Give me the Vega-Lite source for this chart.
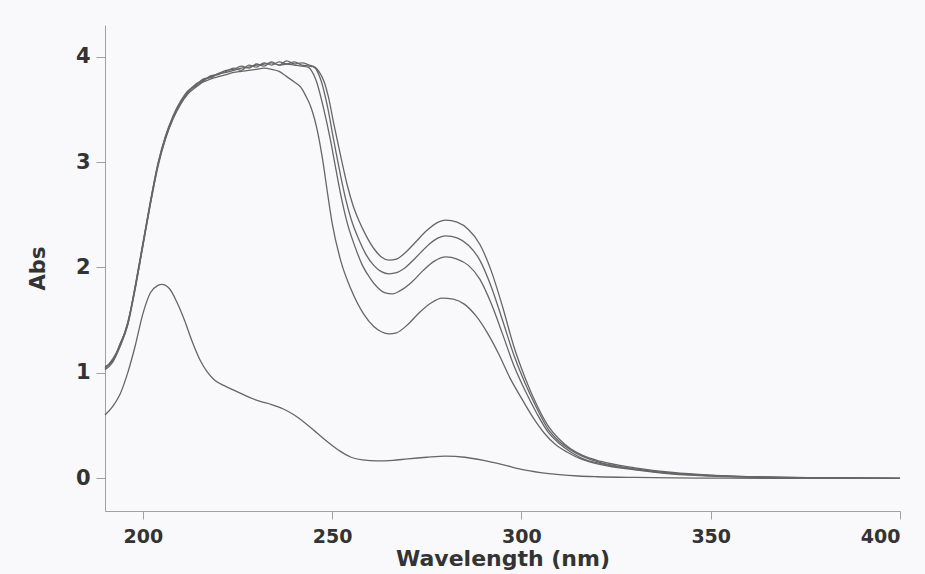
{
  "$schema": "https://vega.github.io/schema/vega-lite/v6.json",
  "width": 795,
  "height": 486,
  "autosize": {"type": "none"},
  "padding": {"left": 105, "top": 25, "right": 25, "bottom": 63},
  "background": "#f9f9fb",
  "config": {
    "view": {"stroke": null},
    "font": "DejaVu Sans"
  },
  "data": {
    "values": [
      {"s":"A","wl":190,"abs":1.05},{"s":"A","wl":192,"abs":1.12},{"s":"A","wl":194,"abs":1.27},{"s":"A","wl":196,"abs":1.47},{"s":"A","wl":198,"abs":1.82},{"s":"A","wl":200,"abs":2.22},{"s":"A","wl":202,"abs":2.62},{"s":"A","wl":204,"abs":2.98},{"s":"A","wl":206,"abs":3.24},{"s":"A","wl":208,"abs":3.43},{"s":"A","wl":210,"abs":3.57},{"s":"A","wl":212,"abs":3.67},{"s":"A","wl":214,"abs":3.74},{"s":"A","wl":216,"abs":3.78},{"s":"A","wl":218,"abs":3.81},{"s":"A","wl":220,"abs":3.84},{"s":"A","wl":222,"abs":3.87},{"s":"A","wl":224,"abs":3.88},{"s":"A","wl":226,"abs":3.91},{"s":"A","wl":228,"abs":3.89},{"s":"A","wl":230,"abs":3.93},{"s":"A","wl":232,"abs":3.91},{"s":"A","wl":234,"abs":3.95},{"s":"A","wl":236,"abs":3.92},{"s":"A","wl":238,"abs":3.96},{"s":"A","wl":240,"abs":3.93},{"s":"A","wl":242,"abs":3.94},{"s":"A","wl":244,"abs":3.92},{"s":"A","wl":245.5,"abs":3.9},{"s":"A","wl":246.5,"abs":3.86},{"s":"A","wl":248,"abs":3.75},{"s":"A","wl":249,"abs":3.62},{"s":"A","wl":250.4,"abs":3.37},{"s":"A","wl":252.3,"abs":3.05},{"s":"A","wl":254,"abs":2.78},{"s":"A","wl":255.5,"abs":2.59},{"s":"A","wl":257,"abs":2.45},{"s":"A","wl":259,"abs":2.3},{"s":"A","wl":261,"abs":2.18},{"s":"A","wl":263,"abs":2.1},{"s":"A","wl":265,"abs":2.07},{"s":"A","wl":267,"abs":2.08},{"s":"A","wl":269,"abs":2.13},{"s":"A","wl":272,"abs":2.24},{"s":"A","wl":275,"abs":2.35},{"s":"A","wl":278,"abs":2.43},{"s":"A","wl":280,"abs":2.45},{"s":"A","wl":283,"abs":2.43},{"s":"A","wl":286,"abs":2.36},{"s":"A","wl":289,"abs":2.22},{"s":"A","wl":292,"abs":1.97},{"s":"A","wl":295,"abs":1.63},{"s":"A","wl":298,"abs":1.25},{"s":"A","wl":301,"abs":0.95},{"s":"A","wl":304,"abs":0.7},{"s":"A","wl":307,"abs":0.5},{"s":"A","wl":310,"abs":0.37},{"s":"A","wl":313,"abs":0.28},{"s":"A","wl":316,"abs":0.22},{"s":"A","wl":321,"abs":0.16},{"s":"A","wl":330,"abs":0.1},{"s":"A","wl":340,"abs":0.055},{"s":"A","wl":350,"abs":0.03},{"s":"A","wl":365,"abs":0.012},{"s":"A","wl":380,"abs":0.005},{"s":"A","wl":400,"abs":0},

      {"s":"B","wl":190,"abs":1.04},{"s":"B","wl":192,"abs":1.13},{"s":"B","wl":194,"abs":1.26},{"s":"B","wl":196,"abs":1.48},{"s":"B","wl":198,"abs":1.81},{"s":"B","wl":200,"abs":2.21},{"s":"B","wl":202,"abs":2.61},{"s":"B","wl":204,"abs":2.97},{"s":"B","wl":206,"abs":3.23},{"s":"B","wl":208,"abs":3.42},{"s":"B","wl":210,"abs":3.56},{"s":"B","wl":212,"abs":3.66},{"s":"B","wl":214,"abs":3.73},{"s":"B","wl":216,"abs":3.77},{"s":"B","wl":218,"abs":3.82},{"s":"B","wl":220,"abs":3.83},{"s":"B","wl":222,"abs":3.86},{"s":"B","wl":224,"abs":3.89},{"s":"B","wl":226,"abs":3.87},{"s":"B","wl":228,"abs":3.92},{"s":"B","wl":230,"abs":3.9},{"s":"B","wl":232,"abs":3.94},{"s":"B","wl":234,"abs":3.92},{"s":"B","wl":236,"abs":3.95},{"s":"B","wl":238,"abs":3.93},{"s":"B","wl":240,"abs":3.95},{"s":"B","wl":242,"abs":3.92},{"s":"B","wl":244,"abs":3.91},{"s":"B","wl":245.2,"abs":3.9},{"s":"B","wl":247,"abs":3.78},{"s":"B","wl":248.8,"abs":3.52},{"s":"B","wl":250.4,"abs":3.21},{"s":"B","wl":252.3,"abs":2.86},{"s":"B","wl":253.5,"abs":2.66},{"s":"B","wl":255,"abs":2.46},{"s":"B","wl":257,"abs":2.27},{"s":"B","wl":259,"abs":2.12},{"s":"B","wl":261,"abs":2.02},{"s":"B","wl":263,"abs":1.96},{"s":"B","wl":265,"abs":1.94},{"s":"B","wl":267,"abs":1.95},{"s":"B","wl":269,"abs":1.99},{"s":"B","wl":272,"abs":2.09},{"s":"B","wl":275,"abs":2.2},{"s":"B","wl":278,"abs":2.28},{"s":"B","wl":280,"abs":2.3},{"s":"B","wl":283,"abs":2.28},{"s":"B","wl":286,"abs":2.21},{"s":"B","wl":289,"abs":2.07},{"s":"B","wl":292,"abs":1.82},{"s":"B","wl":295,"abs":1.5},{"s":"B","wl":298,"abs":1.17},{"s":"B","wl":301,"abs":0.9},{"s":"B","wl":304,"abs":0.67},{"s":"B","wl":307,"abs":0.47},{"s":"B","wl":310,"abs":0.35},{"s":"B","wl":313,"abs":0.27},{"s":"B","wl":316,"abs":0.21},{"s":"B","wl":321,"abs":0.15},{"s":"B","wl":330,"abs":0.09},{"s":"B","wl":340,"abs":0.05},{"s":"B","wl":350,"abs":0.028},{"s":"B","wl":365,"abs":0.011},{"s":"B","wl":380,"abs":0.004},{"s":"B","wl":400,"abs":0},

      {"s":"C","wl":190,"abs":1.06},{"s":"C","wl":192,"abs":1.11},{"s":"C","wl":194,"abs":1.28},{"s":"C","wl":196,"abs":1.46},{"s":"C","wl":198,"abs":1.83},{"s":"C","wl":200,"abs":2.23},{"s":"C","wl":202,"abs":2.63},{"s":"C","wl":204,"abs":2.99},{"s":"C","wl":206,"abs":3.25},{"s":"C","wl":208,"abs":3.44},{"s":"C","wl":210,"abs":3.58},{"s":"C","wl":212,"abs":3.68},{"s":"C","wl":214,"abs":3.72},{"s":"C","wl":216,"abs":3.79},{"s":"C","wl":218,"abs":3.8},{"s":"C","wl":220,"abs":3.84},{"s":"C","wl":222,"abs":3.85},{"s":"C","wl":224,"abs":3.87},{"s":"C","wl":226,"abs":3.89},{"s":"C","wl":228,"abs":3.9},{"s":"C","wl":230,"abs":3.92},{"s":"C","wl":232,"abs":3.93},{"s":"C","wl":234,"abs":3.94},{"s":"C","wl":236,"abs":3.92},{"s":"C","wl":238,"abs":3.93},{"s":"C","wl":240,"abs":3.92},{"s":"C","wl":242,"abs":3.91},{"s":"C","wl":243.6,"abs":3.9},{"s":"C","wl":245.7,"abs":3.78},{"s":"C","wl":247.8,"abs":3.5},{"s":"C","wl":249.6,"abs":3.2},{"s":"C","wl":251,"abs":2.93},{"s":"C","wl":252.5,"abs":2.65},{"s":"C","wl":254,"abs":2.42},{"s":"C","wl":256,"abs":2.2},{"s":"C","wl":258,"abs":2.02},{"s":"C","wl":260,"abs":1.9},{"s":"C","wl":262,"abs":1.81},{"s":"C","wl":264,"abs":1.76},{"s":"C","wl":266,"abs":1.75},{"s":"C","wl":268,"abs":1.78},{"s":"C","wl":271,"abs":1.86},{"s":"C","wl":274,"abs":1.97},{"s":"C","wl":277,"abs":2.06},{"s":"C","wl":280,"abs":2.1},{"s":"C","wl":283,"abs":2.08},{"s":"C","wl":286,"abs":2.02},{"s":"C","wl":289,"abs":1.89},{"s":"C","wl":292,"abs":1.66},{"s":"C","wl":295,"abs":1.37},{"s":"C","wl":298,"abs":1.07},{"s":"C","wl":301,"abs":0.83},{"s":"C","wl":304,"abs":0.62},{"s":"C","wl":307,"abs":0.44},{"s":"C","wl":310,"abs":0.33},{"s":"C","wl":313,"abs":0.25},{"s":"C","wl":316,"abs":0.19},{"s":"C","wl":321,"abs":0.14},{"s":"C","wl":330,"abs":0.085},{"s":"C","wl":340,"abs":0.045},{"s":"C","wl":350,"abs":0.025},{"s":"C","wl":365,"abs":0.01},{"s":"C","wl":380,"abs":0.004},{"s":"C","wl":400,"abs":0},

      {"s":"D","wl":190,"abs":1.03},{"s":"D","wl":192,"abs":1.1},{"s":"D","wl":194,"abs":1.25},{"s":"D","wl":196,"abs":1.45},{"s":"D","wl":198,"abs":1.8},{"s":"D","wl":200,"abs":2.2},{"s":"D","wl":202,"abs":2.6},{"s":"D","wl":204,"abs":2.96},{"s":"D","wl":206,"abs":3.22},{"s":"D","wl":208,"abs":3.41},{"s":"D","wl":210,"abs":3.55},{"s":"D","wl":212,"abs":3.65},{"s":"D","wl":214,"abs":3.71},{"s":"D","wl":216,"abs":3.76},{"s":"D","wl":218,"abs":3.79},{"s":"D","wl":220,"abs":3.81},{"s":"D","wl":222,"abs":3.83},{"s":"D","wl":224,"abs":3.85},{"s":"D","wl":226,"abs":3.86},{"s":"D","wl":228,"abs":3.87},{"s":"D","wl":230,"abs":3.88},{"s":"D","wl":232,"abs":3.89},{"s":"D","wl":234,"abs":3.88},{"s":"D","wl":236,"abs":3.86},{"s":"D","wl":238,"abs":3.81},{"s":"D","wl":240,"abs":3.76},{"s":"D","wl":241.7,"abs":3.71},{"s":"D","wl":243,"abs":3.63},{"s":"D","wl":244.4,"abs":3.52},{"s":"D","wl":246.2,"abs":3.28},{"s":"D","wl":247.5,"abs":3.02},{"s":"D","wl":248.8,"abs":2.7},{"s":"D","wl":250,"abs":2.42},{"s":"D","wl":252.3,"abs":2.06},{"s":"D","wl":254.9,"abs":1.8},{"s":"D","wl":258.3,"abs":1.56},{"s":"D","wl":261,"abs":1.44},{"s":"D","wl":263,"abs":1.39},{"s":"D","wl":265,"abs":1.37},{"s":"D","wl":267,"abs":1.38},{"s":"D","wl":270,"abs":1.46},{"s":"D","wl":273,"abs":1.57},{"s":"D","wl":276,"abs":1.66},{"s":"D","wl":279,"abs":1.71},{"s":"D","wl":282,"abs":1.7},{"s":"D","wl":285,"abs":1.65},{"s":"D","wl":288,"abs":1.54},{"s":"D","wl":291,"abs":1.38},{"s":"D","wl":294,"abs":1.18},{"s":"D","wl":297,"abs":0.95},{"s":"D","wl":300,"abs":0.76},{"s":"D","wl":303,"abs":0.58},{"s":"D","wl":306,"abs":0.43},{"s":"D","wl":309,"abs":0.32},{"s":"D","wl":312,"abs":0.25},{"s":"D","wl":316,"abs":0.18},{"s":"D","wl":321,"abs":0.13},{"s":"D","wl":330,"abs":0.08},{"s":"D","wl":340,"abs":0.04},{"s":"D","wl":350,"abs":0.022},{"s":"D","wl":365,"abs":0.009},{"s":"D","wl":380,"abs":0.003},{"s":"D","wl":400,"abs":0},

      {"s":"E","wl":190,"abs":0.6},{"s":"E","wl":192,"abs":0.68},{"s":"E","wl":194,"abs":0.8},{"s":"E","wl":196,"abs":1.0},{"s":"E","wl":198,"abs":1.26},{"s":"E","wl":200,"abs":1.56},{"s":"E","wl":202,"abs":1.76},{"s":"E","wl":204,"abs":1.83},{"s":"E","wl":205,"abs":1.84},{"s":"E","wl":207,"abs":1.8},{"s":"E","wl":209,"abs":1.67},{"s":"E","wl":211,"abs":1.5},{"s":"E","wl":213,"abs":1.3},{"s":"E","wl":215,"abs":1.13},{"s":"E","wl":217,"abs":1.01},{"s":"E","wl":219,"abs":0.93},{"s":"E","wl":222,"abs":0.87},{"s":"E","wl":225,"abs":0.82},{"s":"E","wl":228,"abs":0.77},{"s":"E","wl":231,"abs":0.73},{"s":"E","wl":234,"abs":0.7},{"s":"E","wl":237,"abs":0.66},{"s":"E","wl":240,"abs":0.6},{"s":"E","wl":243,"abs":0.52},{"s":"E","wl":246,"abs":0.43},{"s":"E","wl":249,"abs":0.34},{"s":"E","wl":252,"abs":0.26},{"s":"E","wl":255,"abs":0.2},{"s":"E","wl":258,"abs":0.175},{"s":"E","wl":262,"abs":0.165},{"s":"E","wl":266,"abs":0.17},{"s":"E","wl":270,"abs":0.185},{"s":"E","wl":275,"abs":0.2},{"s":"E","wl":280,"abs":0.21},{"s":"E","wl":285,"abs":0.2},{"s":"E","wl":290,"abs":0.17},{"s":"E","wl":295,"abs":0.13},{"s":"E","wl":300,"abs":0.085},{"s":"E","wl":305,"abs":0.055},{"s":"E","wl":310,"abs":0.035},{"s":"E","wl":315,"abs":0.022},{"s":"E","wl":320,"abs":0.015},{"s":"E","wl":330,"abs":0.008},{"s":"E","wl":340,"abs":0.004},{"s":"E","wl":350,"abs":0.002},{"s":"E","wl":370,"abs":0},{"s":"E","wl":400,"abs":0}
    ]
  },
  "mark": {"type": "line", "interpolate": "monotone", "color": "#666666", "strokeWidth": 1.3},
  "encoding": {
    "x": {
      "field": "wl", "type": "quantitative",
      "scale": {"domain": [190, 400], "nice": false, "zero": false},
      "axis": {
        "title": "Wavelength (nm)", "values": [200, 250, 300, 350, 400],
        "grid": false, "domainColor": "#a0a0a0", "tickColor": "#a0a0a0", "tickSize": 8,
        "labelFont": "DejaVu Sans", "labelFontSize": 19, "labelFontWeight": "bold", "labelColor": "#333333", "labelPadding": 8,
        "titleFont": "DejaVu Sans", "titleFontSize": 22, "titleFontWeight": "bold", "titleColor": "#333333", "titlePadding": 2
      }
    },
    "y": {
      "field": "abs", "type": "quantitative",
      "scale": {"domain": [-0.31, 4.3], "nice": false, "zero": false},
      "axis": {
        "title": "Abs", "values": [0, 1, 2, 3, 4],
        "grid": false, "domainColor": "#a0a0a0", "tickColor": "#a0a0a0", "tickSize": 9,
        "labelFont": "DejaVu Sans", "labelFontSize": 21, "labelFontWeight": "bold", "labelColor": "#333333", "labelPadding": 6,
        "titleFont": "DejaVu Sans", "titleFontSize": 21, "titleFontWeight": "bold", "titleColor": "#333333", "titlePadding": 27
      }
    },
    "detail": {"field": "s"}
  }
}
